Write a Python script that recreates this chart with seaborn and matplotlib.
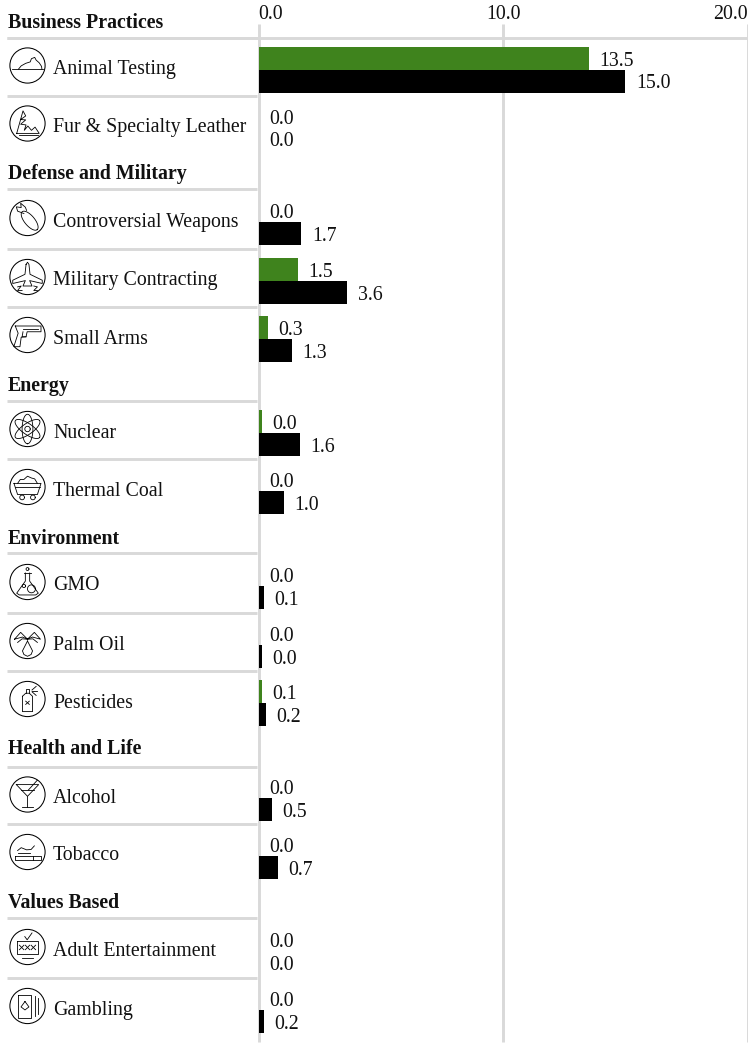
import matplotlib
matplotlib.use("Agg")
import matplotlib.pyplot as plt
import numpy as np
import pandas as pd
import seaborn as sns

groups = ["Business Practices", "Defense and Military", "Energy", "Environment",
          "Health and Life", "Values Based"]
group_rows = [
    ["Animal Testing", "Fur & Specialty Leather"],
    ["Controversial Weapons", "Military Contracting", "Small Arms"],
    ["Nuclear", "Thermal Coal"],
    ["GMO", "Palm Oil", "Pesticides"],
    ["Alcohol", "Tobacco"],
    ["Adult Entertainment", "Gambling"],
]
# bar lengths as measured, the printed labels are rounded differently in places
green_values = [13.5, 0, 0, 1.6, 0.37, 0.14, 0, 0, 0, 0.14, 0, 0, 0, 0]
black_values = [15.0, 0, 1.75, 3.63, 1.35, 1.67, 1.02, 0.2, 0.14, 0.29, 0.53, 0.78, 0, 0.2]
green_labels = ["13.5", "0.0", "0.0", "1.5", "0.3", "0.0", "0.0", "0.0", "0.0", "0.1", "0.0", "0.0", "0.0", "0.0"]
black_labels = ["15.0", "0.0", "1.7", "3.6", "1.3", "1.6", "1.0", "0.1", "0.0", "0.2", "0.5", "0.7", "0.0", "0.2"]
x_ticks = [0, 10, 20]

GREEN = "#3f831d"
GRID = "#d9d9d9"
INK = "#111111"
W, H = 748, 1044
PX = 24.5  # pixels per unit on the value axis
FS = 14.3

# page layout in pixels: divider under each heading, heading baseline, row heights
head_lines = [37.5, 189, 401, 553, 767, 918]
head_base = [28, 179.5, 391.5, 544, 753.5, 908]
row_heights = [[58, 58], [60, 58, 58], [58, 58], [60, 58, 58], [57, 58], [60, 58]]


def ell(cx, cy, a, b=None, angle=0):
    # closed ellipse as a polyline, unit coords of the icon
    b = a if b is None else b
    t = np.linspace(0, 2 * np.pi, 40)
    r = np.radians(angle)
    xs = a * np.cos(t)
    ys = b * np.sin(t)
    return list(zip(cx + xs * np.cos(r) - ys * np.sin(r), cy + xs * np.sin(r) + ys * np.cos(r)))


ICONS = {
    "Animal Testing": [[(-.85, .2), (.85, .2)],
                       [(-.5, .2), (-.35, .02), (-.1, -.12), (.15, -.2), (.22, -.38), (.4, -.45), (.48, -.3), (.65, -.15), (.78, .05), (.8, .2)]],
    "Fur & Specialty Leather": [[(-.6, .55), (.65, .55), (.42, .2), (.22, .38), (.02, .14), (-.18, .38), (-.08, .08), (-.38, .04), (-.1, -.2), (-.38, -.22), (-.1, -.42), (-.25, -.7), (-.6, .55)],
                                [(-.45, .65), (.6, .65)]],
    "Controversial Weapons": [ell(.12, .15, .65, .28, 50),
                              [(-.2, -.25), (-.55, -.38), (-.62, -.62), (-.35, -.58), (-.38, -.82), (-.12, -.6), (-.05, -.42)]],
    "Military Contracting": [[(-.08, -.7), (0, -.82), (.08, -.7), (.14, -.15), (.82, .18), (.82, .36), (.12, .2), (.25, .5), (-.25, .5), (-.12, .2), (-.82, .36), (-.82, .18), (-.14, -.15), (-.08, -.7)],
                             [(-.55, .55), (-.35, .5), (-.55, .75), (-.3, .75)], [(.35, .5), (.55, .55), (.35, .75), (.55, .75)]],
    "Small Arms": [[(-.68, -.5), (.75, -.5), (.75, -.18), (-.02, -.18), (-.08, .1), (-.35, .12), (-.42, .65), (-.76, .65), (-.52, -.1), (-.68, -.5)],
                   [(-.25, -.33), (.6, -.33)], [(-.08, .1), (-.3, .1), (-.25, -.18)]],
    "Nuclear": [ell(0, 0, .15), ell(0, 0, .82, .3, 90), ell(0, 0, .82, .3, 35), ell(0, 0, .82, .3, -35)],
    "Thermal Coal": [[(-.75, -.2), (.75, -.2), (.55, .42), (-.55, .42), (-.75, -.2)], [(-.68, -.02), (.68, -.02)],
                     [(-.55, -.2), (-.4, -.42), (-.2, -.42), (0, -.6), (.22, -.5), (.4, -.45), (.55, -.2)],
                     ell(-.3, .58, .13), ell(.3, .58, .13)],
    "GMO": [[(-.12, -.5), (-.12, -.05), (-.6, .62), (-.45, .72), (.45, .72), (.6, .62), (.12, -.05), (.12, -.5)], [(-.18, -.5), (.18, -.5)],
            ell(.22, .38, .22), ell(-.2, .22, .09), ell(0, -.72, .08)],
    "Palm Oil": [[(-.72, -.1), (-.38, -.48), (0, -.1), (.38, -.48), (.72, -.1), (.28, -.22), (0, -.1), (-.28, -.22), (-.72, -.1)],
                 [(-.55, .08), (-.3, -.12), (0, -.1), (.3, -.12), (.55, .08)],
                 [(0, 0), (.28, .55), (.2, .75), (0, .85), (-.2, .75), (-.28, .55), (0, 0)]],
    "Pesticides": [[(-.28, -.15), (-.1, -.32), (.1, -.32), (.28, -.15), (.28, .7), (-.28, .7), (-.28, -.15)],
                   [(-.1, -.32), (-.1, -.55), (.1, -.55), (.1, -.32)], [(-.1, .12), (.1, .3)], [(.1, .12), (-.1, .3)],
                   [(.25, -.5), (.48, -.7)], [(.25, -.45), (.55, -.45)], [(.25, -.4), (.48, -.2)]],
    "Alcohol": [[(-.62, -.55), (.62, -.55), (0, .1), (-.62, -.55)], [(0, .1), (0, .68)], [(-.32, .68), (.32, .68)],
                [(-.35, -.27), (.35, -.27)], [(.05, -.25), (.55, -.8)]],
    "Tobacco": [[(-.68, .2), (.75, .2), (.75, .42), (-.68, .42), (-.68, .2)], [(.3, .2), (.3, .42)],
                [(-.55, -.08), (-.35, -.24), (-.05, -.12), (.2, -.14), (.38, -.34)], [(-.55, .05), (.15, .05)]],
    "Adult Entertainment": [[(-.58, -.35), (.58, -.35), (.58, .38), (-.58, .38), (-.58, -.35)], [(-.3, .6), (.3, .6)],
                            [(-.15, -.58), (-.02, -.4), (.25, -.78)], [(-.45, -.1), (-.2, .15)], [(-.2, -.1), (-.45, .15)],
                            [(-.12, -.1), (.12, .15)], [(.12, -.1), (-.12, .15)], [(.2, -.1), (.45, .15)], [(.45, -.1), (.2, .15)]],
    "Gambling": [[(-.5, -.6), (.22, -.6), (.22, .65), (-.5, .65), (-.5, -.6)], [(.42, -.55), (.42, .55)], [(.58, -.45), (.58, .45)],
                 [(-.14, -.25), (.08, .05), (-.14, .22), (-.36, .05), (-.14, -.25)]],
}


def draw_icon(ax, name, cx, cy):
    ax.add_patch(plt.Circle((cx, cy), 17.6, fill=False, ec="black", lw=0.75))
    for line in ICONS[name]:
        ax.plot([cx + 18 * p[0] for p in line], [cy + 18 * p[1] for p in line],
                color="black", lw=0.6, solid_joinstyle="round")


rows, row_pos, row_tops, row_bots = [], [], [], []
for members, top, heights in zip(group_rows, head_lines, row_heights):
    y = top
    for member, h in zip(members, heights):
        rows.append(member)
        row_tops.append(y)
        row_bots.append(y + h)
        row_pos.append(y + h / 2 + 3)
        y += h

df = pd.DataFrame({
    "pos": row_pos * 2,
    "value": green_values + black_values,
    "series": ["green"] * len(rows) + ["black"] * len(rows),
})

plt.rcParams["font.family"] = ["Liberation Serif", "DejaVu Serif"]
fig = plt.figure(figsize=(W / 100, H / 100), dpi=100)

# pixel layer for the left hand table
bg = fig.add_axes([0, 0, 1, 1])
bg.set_xlim(0, W)
bg.set_ylim(H, 0)
bg.axis("off")

ax = fig.add_axes([258.7 / W, 1 - 1042 / H, 489 / W, 1018 / H])
ax.patch.set_alpha(0)
sns.barplot(data=df, x="value", y="pos", hue="series", orient="h", native_scale=True,
            palette={"green": GREEN, "black": "black"}, width=0.8, gap=0, saturation=1,
            linewidth=0, legend=False, ax=ax)
ax.set_xlim(0, 489 / PX)
ax.set_ylim(1042, 24)
ax.set_xticks(x_ticks)
ax.set_xticklabels(["%.1f" % t for t in x_ticks], fontsize=FS)
ax.xaxis.tick_top()
ax.tick_params(axis="x", length=0, pad=0, colors=INK)
ax.set_yticks([])
ax.set_xlabel("")
ax.set_ylabel("")
for tick, ha in zip(ax.get_xticklabels(), ["left", "center", "right"]):
    tick.set_ha(ha)
ax.grid(axis="x", color=GRID, lw=2.1, zorder=0)
ax.set_axisbelow(True)
sns.despine(ax=ax, left=True, bottom=True, top=True, right=True)
for line in ax.get_xgridlines():
    line.set_clip_on(False)
    line.set_solid_capstyle("butt")

for bars, labels in zip(ax.containers, [green_labels, black_labels]):
    for bar, label in zip(bars, labels):
        end = bar.get_width()
        ax.text(max(end + 10.5 / PX, 11 / PX), bar.get_y() + bar.get_height() / 2 + 0.5, label,
                fontsize=FS, color=INK, va="center_baseline", ha="left")

# dividers, section names, row names and icons
bg.plot([7, W], [head_lines[0]] * 2, color=GRID, lw=2.1, solid_capstyle="butt")
for name, line_y, base in zip(groups, head_lines, head_base):
    bg.text(8, base, name, fontsize=FS, fontweight="bold", color=INK, va="baseline")
    bg.plot([7, 257], [line_y, line_y], color=GRID, lw=2.1, solid_capstyle="butt")
for name, top, bot in zip(rows, row_tops, row_bots):
    mid = (top + bot) / 2
    draw_icon(bg, name, 27.5, mid - 1)
    bg.text(53, mid + 7.5, name, fontsize=FS, color=INK, va="baseline")
    if bot in row_tops:
        bg.plot([7, 257], [bot, bot], color=GRID, lw=2.1, solid_capstyle="butt")

fig.savefig("out.png", dpi=100)
